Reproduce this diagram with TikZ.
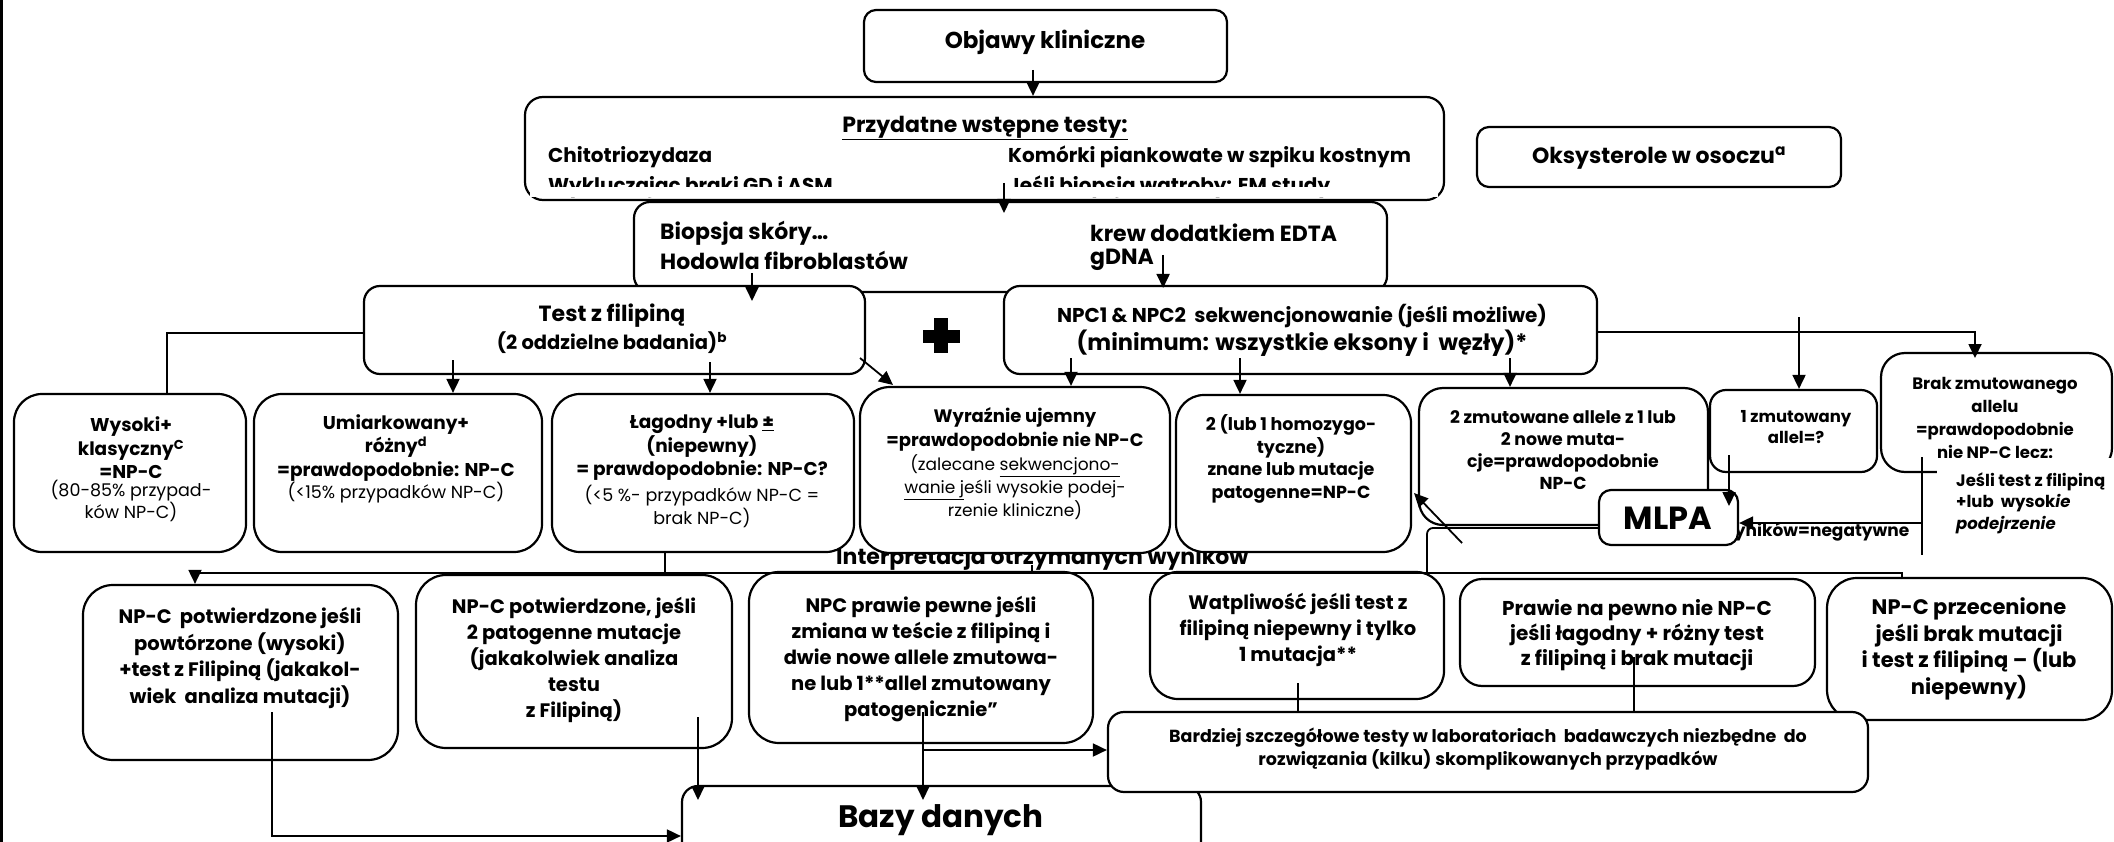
\documentclass[tikz,border=0pt]{standalone}
\usepackage{fontspec}
\setmainfont{Poppins}
\usetikzlibrary{arrows.meta}
\newcommand\fsz[2]{\fontsize{#1}{#2}\selectfont}
\newcommand\bx[6]{\node[box,rounded corners=#6pt,minimum width={(#4-#2)*1pt},minimum height={(#5-#3)*1pt}] (#1) at ({(#2+#4)/2},{(#3+#5)/2}) {};}
\begin{document}
\begin{tikzpicture}[x=1pt,y=-1pt,
  box/.style={draw,line width=2.2pt,fill=white,inner sep=0pt},
  txt/.style={inner sep=0pt,align=center},
  conn/.style={line width=1.8pt},
  arr/.style={line width=1.8pt,-{Triangle[length=14pt,width=13pt]}}]
\useasboundingbox (0,0) rectangle (2114,842);
\fill[white] (0,0) rectangle (2114,842);
\draw[line width=2.5pt] (1.5,0) -- (1.5,842);

% top
\bx{obj}{864}{10}{1227}{82}{12}
\node[txt,font=\fsz{23}{27}\bfseries] (tobj) at (1045,42) {Objawy kliniczne};

\bx{przyd}{525}{97}{1444}{200}{18}
\node[txt,font=\fsz{22}{26}\bfseries] (tprz) at (985,128) {\underline{Przydatne wstępne testy:}};
\node[anchor=base west,inner sep=0pt,font=\fsz{20}{24}\bfseries] (chit) at (548,163) {Chitotriozydaza};
\node[anchor=base west,inner sep=0pt,font=\fsz{20}{24}\bfseries] (wykl) at (548,193) {Wykluczajac braki GD i ASM};
\node[anchor=base west,inner sep=0pt,font=\fsz{20}{24}\bfseries] (komo) at (1008,163) {Komórki piankowate w szpiku kostnym};
\node[anchor=base west,inner sep=0pt,font=\fsz{20}{24}\bfseries] (jesb) at (1008,193) {Jeśli biopsja watroby: EM study};
\fill[white] (530,187) rectangle (1438,197.5);

\bx{oksy}{1477}{127}{1841}{187}{12}
\node[txt,font=\fsz{22}{26}\bfseries] (toksy) at (1659,158) {Oksysterole w osoczu\textsuperscript{a}};

\bx{biop}{634}{202}{1387}{292}{16}
\node[anchor=west,inner sep=0pt,font=\fsz{22}{26}\bfseries] (bio1) at (660,233) {Biopsja skóry…};
\node[anchor=west,inner sep=0pt,font=\fsz{22}{26}\bfseries] (bio2) at (660,260) {Hodowla fibroblastów};
\node[anchor=west,inner sep=0pt,font=\fsz{22}{26}\bfseries] (krew) at (1090,233) {krew dodatkiem EDTA};
\node[anchor=west,inner sep=0pt,font=\fsz{22}{26}\bfseries] (gdna) at (1090,260) {gDNA};

\bx{test}{364}{286}{865}{374}{16}
\node[txt,font=\fsz{22}{26}\bfseries] (ttest1) at (612,316) {Test z filipiną};
\node[txt,font=\fsz{19.5}{23}\bfseries] (ttest2) at (612,343) {(2 oddzielne badania)\textsuperscript{b}};

\bx{npc}{1004}{286}{1597}{374}{16}
\node[txt,font=\fsz{20}{24}\bfseries] (tnpc1) at (1302,316) {NPC1 \& NPC2\ \ sekwencjonowanie (jeśli możliwe)};
\node[txt,font=\fsz{22.5}{26}\bfseries] (tnpc2) at (1302,343) {(minimum: wszystkie eksony i\ \ węzły)*};

\fill (923,330) rectangle (960,343);
\fill (934,318) rectangle (948,353);

\node[anchor=base west,inner sep=0pt,font=\fsz{22}{26}\bfseries] (interp) at (836,564) {Interpretacja otrzymanych wyników};

% row 1
\bx{wys}{14}{394}{246}{552}{28}
\node[txt,font=\fsz{18.5}{23.5}\bfseries] (twys1) at (131,448) {Wysoki+\\klasyczny\textsuperscript{C}\\=NP-C};
\node[txt,font=\fsz{17.5}{17}] (twys2) at (131,501) {(80-85\% przypad-\\ków NP-C)};

\bx{umi}{254}{394}{542}{552}{28}
\node[txt,font=\fsz{18.5}{23.5}\bfseries] (tumi1) at (396,448) {Umiarkowany+\\różny\textsuperscript{d}\\=prawdopodobnie: NP-C};
\node[txt,font=\fsz{17.5}{21}] (tumi2) at (396,493) {(<15\% przypadków NP-C)};

\bx{lag}{552}{394}{854}{552}{28}
\node[txt,font=\fsz{18.5}{23.5}\bfseries] (tlag1) at (702,448) {Łagodny +lub \underline{±}\\(niepewny)\\= prawdopodobnie: NP-C?};
\node[txt,font=\fsz{17.5}{23}] (tlag2) at (702,506.5) {(<5 \%- przypadków NP-C =\\brak NP-C)};

\bx{wyr}{860}{387}{1170}{553}{30}
\node[txt,font=\fsz{18}{24}\bfseries] (twyr1) at (1015,429) {Wyraźnie ujemny\\=prawdopodobnie nie NP-C};
\node[txt,font=\fsz{17}{23}] (twyr2) at (1015,487) {(zalecane \underline{sekwencjono-}\\\underline{wanie j}eśli wysokie podej-\\rzenie kliniczne)};

\bx{two}{1176}{395}{1411}{552}{28}
\node[txt,font=\fsz{17.5}{22.7}\bfseries] (ttwo) at (1291,459) {2 (lub 1 homozygo-\\tyczne)\\ znane lub mutacje\\patogenne=NP-C};

\bx{zmut1}{1710}{390}{1877}{472}{16}
\node[txt,font=\fsz{16.5}{21}\bfseries] (tzmut1) at (1796,427.5) {1 zmutowany\\allel=?};

\bx{brak}{1881}{353}{2112}{472}{24}
\node[txt,font=\fsz{16.5}{23.3}\bfseries] (tbrak) at (1995,418) {Brak zmutowanego\\allelu\\=prawdopodobnie\\nie NP-C lecz:};

\node[anchor=west,inner sep=0pt,font=\fsz{17}{20}\bfseries] (neg) at (1720,532) {wyników=negatywne};
\fill[white] (1937,458) rectangle (2116,548);
\node[anchor=west,align=left,inner sep=0pt,font=\fsz{16.5}{21.5}\bfseries] (jesli) at (1956,503) {Jeśli test z filipiną\\+lub\ \ wysok\textit{ie}\\\textit{podejrzenie}};

\bx{zmut2}{1419}{388}{1708}{525}{24}
\node[txt,font=\fsz{17.3}{22}\bfseries] (tzmut2) at (1563,450) {2 zmutowane allele z 1 lub\\2 nowe muta-\\cje=prawdopodobnie\\NP-C};

\bx{mlpa}{1599}{490}{1738}{545}{12}
\node[txt,font=\fsz{32}{36}\bfseries] (tmlpa) at (1668,518) {MLPA};

% row 2
\bx{p1}{83}{585}{398}{760}{30}
\node[txt,font=\fsz{19.5}{26.7}\bfseries] (tp1) at (240,658) {NP-C\ \ potwierdzone jeśli\\powtórzone (wysoki)\\+test z Filipiną (jakakol-\\wiek\ \ analiza mutacji)};

\bx{p2}{416}{575}{732}{748}{30}
\node[txt,font=\fsz{19.5}{26}\bfseries] (tp2) at (574,660) {NP-C potwierdzone, jeśli\\2 patogenne mutacje\\(jakakolwiek analiza\\testu\\z Filipiną)};

\bx{p3}{749}{572}{1093}{743}{30}
\node[txt,font=\fsz{19.5}{26}\bfseries] (tp3) at (921,659) {NPC prawie pewne jeśli\\zmiana w teście z filipiną i\\dwie nowe allele zmutowa-\\ne lub 1**allel zmutowany\\patogenicznie"};

\bx{p4}{1150}{572}{1444}{699}{28}
\node[txt,font=\fsz{19.5}{26}\bfseries] (tp4) at (1298,629.5) {Watpliwość jeśli test z\\filipiną niepewny i tylko\\1 mutacja**};

\bx{p5}{1460}{579}{1815}{686}{22}
\node[txt,font=\fsz{20}{25}\bfseries] (tp5) at (1637,635) {Prawie na pewno nie NP-C\\jeśli łagodny + różny test\\z filipiną i brak mutacji};

\bx{p6}{1827}{578}{2112}{720}{30}
\node[txt,font=\fsz{21}{26.5}\bfseries] (tp6) at (1969,649) {NP-C przecenione\\jeśli brak mutacji\\i test z filipiną – (lub\\niepewny)};

\bx{bazy}{682}{786}{1201}{900}{16}
\node[txt,font=\fsz{31}{35}\bfseries] (tbazy) at (941,820) {Bazy danych};

\bx{bard}{1108}{712}{1868}{792}{16}
\node[txt,font=\fsz{17.5}{23}\bfseries] (tbard) at (1488,749.5) {Bardziej szczegółowe testy w laboratoriach\ \ badawczych niezbędne\ \ do\\rozwiązania (kilku) skomplikowanych przypadków};

% connectors
\coordinate (c1) at (1033,70);
\draw[arr] (c1) -- (c1 |- przyd.north);
\coordinate (c2) at (1004,183);
\draw[arr] (c2) -- (1004,213);
\draw[arr] ([xshift=9pt,yshift=5pt]gdna.east) -- ([xshift=9pt,yshift=-28pt]gdna.east);
\coordinate (c4) at (752,273);
\draw[arr] (c4) -- (752,301);
\coordinate (c5) at (364,333);
\draw[conn] (c5) -| (167,394);
\coordinate (c6) at (453,360);
\draw[arr] (c6) -- (c6 |- umi.north);
\coordinate (c7) at (710,362);
\draw[arr] (c7) -- (c7 |- lag.north);
\coordinate (c8) at (860,358);
\draw[arr] (c8) -- (893,385);
\coordinate (c9) at (1071,358);
\draw[arr] (c9) -- (c9 |- wyr.north);
\coordinate (c10) at (1240,358);
\draw[arr] (c10) -- (c10 |- two.north);
\coordinate (c11) at (1510,358);
\draw[arr] (c11) -- (c11 |- zmut2.north);
\coordinate (c12) at (1597,332);
\draw[arr] (c12) -| (1975,358);
\coordinate (c13) at (1799,317);
\draw[arr] (c13) -- (c13 |- zmut1.north);
\coordinate (c14) at (1729,455);
\draw[arr] (c14) -- (1729,506);
\coordinate (c15) at (1922,457);
\draw[conn] (c15) -- (1922,555);
\coordinate (c16) at (1922,523);
\draw[arr] (c16) -- (c16 -| mlpa.east);
\coordinate (c16b) at (1599,528);
\draw[conn,rounded corners=6pt] (c16b) -- (1427,528) -- (1427,573);
\coordinate (c17) at (1462,543);
\draw[arr] (c17) -- (1414,493);
\coordinate (c18) at (1902,579);
\draw[conn] (c18) -- (1902,573) -- (195,573);
\coordinate (c18b) at (195,572.5);
\draw[arr] (c18b) -- (c18b |- p1.north);
\coordinate (c19) at (665,552);
\draw[conn] (c19) -- (665,573);
\coordinate (c20) at (1032,565);
\draw[conn] (c20) -- (1032,573);
\coordinate (c21) at (272,712);
\coordinate (c21b) at (272,836);
\draw[arr] (c21) -- (c21b) -- (c21b -| bazy.west);
\coordinate (c22) at (698,717);
\draw[arr] (c22) -- (698,800);
\coordinate (c23) at (923,712);
\draw[arr] (c23) -- (923,800);
\coordinate (c24) at (923,750);
\draw[arr] (c24) -- (c24 -| bard.west);
\coordinate (c25) at (1298,683);
\draw[conn] (c25) -- (c25 |- bard.north);
\coordinate (c26) at (1634,657);
\draw[conn] (c26) -- (c26 |- bard.north);
\end{tikzpicture}
\end{document}
